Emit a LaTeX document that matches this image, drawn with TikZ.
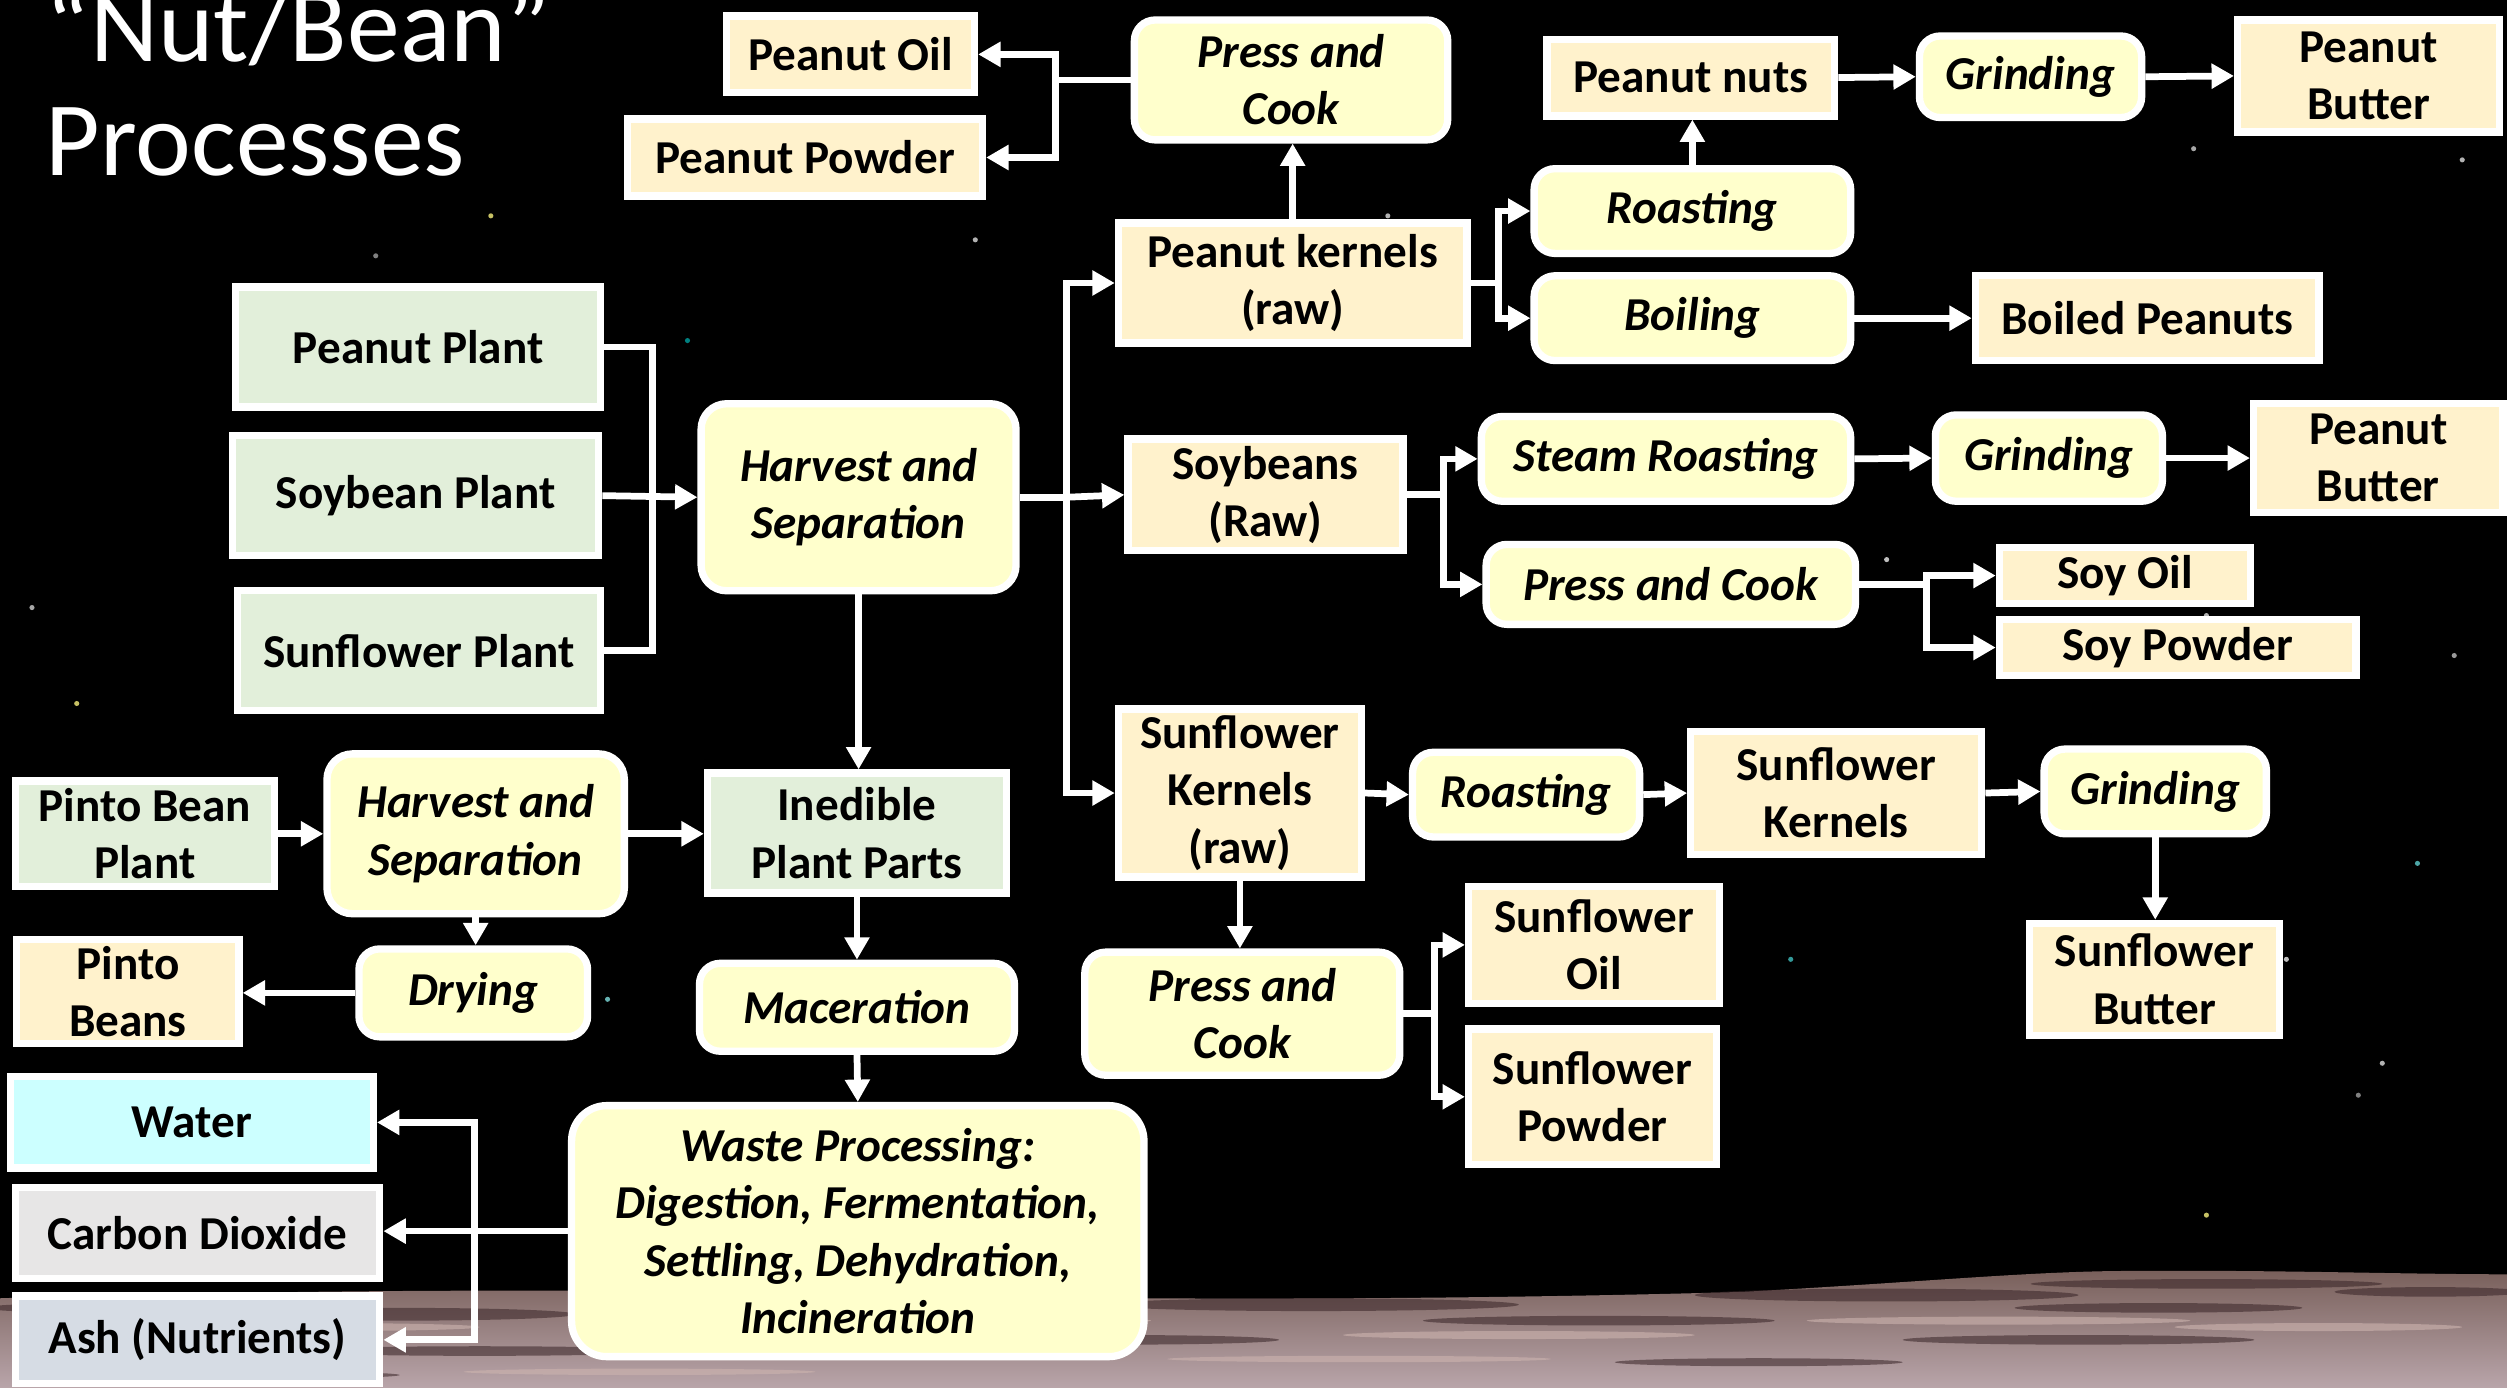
\documentclass[tikz,border=0pt]{standalone}
\usepackage{fontspec}
\setmainfont{Carlito}
\usetikzlibrary{arrows.meta}
\definecolor{cream}{HTML}{FFF2CC}
\definecolor{procy}{HTML}{FFFFCC}
\definecolor{plantg}{HTML}{E2EFDA}
\definecolor{waterc}{HTML}{CCFFFF}
\definecolor{co2c}{HTML}{E7E6E6}
\definecolor{ashc}{HTML}{D6DCE4}
\definecolor{moontop}{RGB}{120,95,90}
\definecolor{moonbot}{RGB}{185,165,170}
\definecolor{moondark}{RGB}{55,35,38}
\definecolor{moonlight}{RGB}{205,180,175}
\newcommand\boxfont{\fontsize{8.4}{10.2}\selectfont\bfseries}
\tikzset{
  box/.style={draw=white, line width=1.3pt, text=black, align=center, inner sep=0pt, font=\boxfont},
  prod/.style={box, fill=cream},
  plant/.style={box, fill=plantg},
  proc/.style={box, fill=procy, rounded corners=1.3mm, font=\boxfont\itshape},
  sz/.style 2 args={minimum width=#1mm, minimum height=#2mm},
  ln/.style={draw=white, line width=1.2pt},
  arr/.style={ln, -{Triangle[length=1.4mm,width=1.5mm]}},
  ttl/.style={anchor=base west, text=white, inner sep=0pt, font=\fontsize{18.8}{22}\selectfont},
}
\begin{document}
\begin{tikzpicture}[x=0.1mm,y=-0.1mm]
\useasboundingbox (0,0) rectangle (1568,868);
\fill[black] (0,0) rectangle (1568,868);
% stars
\foreach \x/\y/\c in {235/160/gray, 430/213/teal, 20/380/gray!70, 48/440/yellow!50!gray, 95/498/gray, 1275/65/gray, 1372/93/gray!70, 868/135/gray!60, 1505/320/gray, 1120/600/teal!80, 1380/385/gray!60, 1535/410/gray!80, 1512/540/teal!70, 1475/685/gray, 1380/760/yellow!50!gray, 648/700/gray!70, 1490/665/gray!60, 340/555/teal!70, 380/625/teal!60, 150/235/gray!50, 1115/470/teal!60, 1430/600/gray!50, 1180/350/gray!50, 1540/100/gray!60, 610/150/gray!60, 307/135/yellow!50!gray} {\fill[\c] (\x,\y) circle (1.6);}
% moon surface
\fill[top color=moontop, bottom color=moonbot] (0,812) .. controls (200,806) and (400,806) .. (560,810) .. controls (750,814) and (950,812) .. (1090,808) .. controls (1200,802) and (1260,796) .. (1320,795) .. controls (1420,794) and (1500,797) .. (1568,797) -- (1568,868) -- (0,868) -- cycle;
\foreach \x/\y/\a/\b in {60/818/70/3, 250/822/110/4, 470/816/90/3, 820/816/130/4, 1000/826/110/3, 1180/810/120/4, 1380/803/110/3, 1350/818/90/3, 1520/808/60/3, 300/845/120/3, 700/838/100/3, 1300/838/110/3, 1100/852/90/2.5, 150/860/100/2.5} {\fill[moondark, opacity=0.55] (\x,\y) ellipse [x radius=\a, y radius=\b];}
\foreach \x/\y/\a/\b in {200/830/100/2.5, 600/826/120/2.5, 950/835/110/2.5, 1250/826/120/2.5, 1450/830/90/2.5, 850/850/120/2, 400/858/110/2} {\fill[moonlight, opacity=0.6] (\x,\y) ellipse [x radius=\a, y radius=\b];}
% title
\node[ttl] (t1) at (28,38.6) {“Nut/Bean”};
\node[ttl] (t2) at (28,110) {Processes};
% nodes
\node[prod, sz={15.5}{4.8}] (poil) at (532,34) {Peanut Oil};
\node[prod, sz={22.2}{4.8}] (ppow) at (503.5,98.5) {Peanut Powder};
\node[proc, sz={19.6}{7.5}] (pcook1) at (807.5,50) {Press and\\Cook};
\node[prod, sz={18}{4.8}] (pnuts) at (1057.5,48.5) {Peanut nuts};
\node[proc, sz={13.9}{5.1}] (grind1) at (1270,48) {Grinding};
\node[prod, sz={16.4}{7}] (pbut1) at (1481.5,47.5) {Peanut\\Butter};
\node[proc, sz={19.8}{5.3}] (roast1) at (1058.5,132) {Roasting};
\node[proc, sz={19.8}{5.3}] (boil) at (1058.5,199) {Boiling};
\node[prod, sz={21.5}{5.3}] (boiled) at (1343,199) {Boiled Peanuts};
\node[prod, sz={21.8}{7.5}] (pkern) at (808.5,177) {Peanut kernels\\(raw)};
\node[plant, sz={22.8}{7.5}] (pplant) at (261.5,217) {Peanut Plant};
\node[plant, sz={22.9}{7.5}] (splant) at (260,310) {Soybean Plant};
\node[plant, sz={22.7}{7.5}] (sfplant) at (262,407) {Sunflower Plant};
\node[proc, sz={19.7}{11.7}, rounded corners=1.6mm] (harv1) at (537,311) {Harvest and\\Separation};
\node[prod, sz={17.2}{7}] (soyb) at (791.5,309.5) {Soybeans\\(Raw)};
\node[proc, sz={23.1}{5.3}] (steam) at (1042,287) {Steam Roasting};
\node[proc, sz={14.2}{5.4}] (grind2) at (1281.5,286.5) {Grinding};
\node[prod, sz={15.6}{6.8}] (pbut2) at (1487.5,286.5) {Peanut\\Butter};
\node[proc, sz={23.1}{5}] (pcook2) at (1045,365.5) {Press and Cook};
\node[prod, sz={15.7}{3.5}] (soyoil) at (1329,360) {Soy Oil};
\node[prod, sz={22.3}{3.5}] (soypow) at (1362,405) {Soy Powder};
\node[prod, sz={15.2}{10.5}] (sfkern) at (775.5,496) {Sunflower\\Kernels\\(raw)};
\node[proc, sz={14.2}{5.3}] (roast2) at (954.5,497) {Roasting};
\node[prod, sz={18.2}{7.7}] (sfk2) at (1148.5,496) {Sunflower\\Kernels};
\node[proc, sz={13.9}{5.3}] (grind3) at (1348,495) {Grinding};
\node[prod, sz={15.6}{7}] (sfbut) at (1347.5,612.5) {Sunflower\\Butter};
\node[proc, sz={19.7}{7.7}] (pcook3) at (777,634) {Press and\\Cook};
\node[prod, sz={15.7}{7.3}] (sfoil) at (997,591) {Sunflower\\Oil};
\node[prod, sz={15.5}{8.5}] (sfpow) at (996,686) {Sunflower\\Powder};
\node[plant, sz={16.2}{6.6}] (pbplant) at (90.5,521.5) {Pinto Bean\\Plant};
\node[proc, sz={18.6}{10}, rounded corners=1.6mm] (harv2) at (297.5,521.5) {Harvest and\\Separation};
\node[plant, sz={18.7}{7.5}] (ined) at (536,521) {Inedible\\Plant Parts};
\node[proc, sz={14.3}{5.5}] (dry) at (296,621) {Drying};
\node[prod, sz={13.9}{6.5}] (pinto) at (80,620) {Pinto\\Beans};
\node[proc, sz={19.7}{5.5}] (mac) at (536,630) {Maceration};
\node[proc, sz={35.8}{15.7}, rounded corners=2.2mm] (waste) at (536.5,770) {Waste Processing:\\Digestion, Fermentation,\\Settling, Dehydration,\\Incineration};
\node[box, fill=waterc, sz={22.7}{5.7}] (water) at (120,702) {Water};
\node[box, fill=co2c, sz={22.8}{5.7}] (co2) at (123.5,771) {Carbon Dioxide};
\node[box, fill=ashc, sz={22.8}{5.5}] (ash) at (123.5,838) {Ash (Nutrients)};
% junctions
\coordinate (j1) at (660,50);
\coordinate (j2) at (937,177);
\coordinate (jp) at (408,310);
\coordinate (jh) at (667,311);
\coordinate (jsoy) at (903,309.5);
\coordinate (jpc2) at (1205,365.5);
\coordinate (jpc3) at (897,634);
\coordinate (jw) at (297,770);
% connectors
\draw[ln] (pcook1.west) -- (j1);
\draw[arr] (j1) |- (poil.east);
\draw[arr] (j1) |- (ppow.east);
\draw[arr] (pkern.north) -- (pkern.north |- pcook1.south);
\draw[ln] (pkern.east) -- (j2);
\draw[arr] (j2) |- (roast1.west);
\draw[arr] (j2) |- (boil.west);
\draw[arr] (roast1.north) -- (roast1.north |- pnuts.south);
\draw[arr] (pnuts.east) -- (grind1.west);
\draw[arr] (grind1.east) -- (pbut1.west);
\draw[arr] (boil.east) -- (boiled.west);
\draw[ln] (pplant.east) -| (jp);
\draw[ln] (sfplant.east) -| (jp);
\draw[arr] (splant.east) -- (harv1.west);
\draw[ln] (harv1.east) -- (jh);
\draw[arr] (jh) |- (pkern.west);
\draw[arr] (jh) -- (soyb.west);
\draw[arr] (jh) |- (sfkern.west);
\draw[arr] (harv1.south) -- (harv1.south |- ined.north);
\draw[ln] (soyb.east) -- (jsoy);
\draw[arr] (jsoy) |- (steam.west);
\draw[arr] (jsoy) |- (pcook2.west);
\draw[arr] (steam.east) -- (grind2.west);
\draw[arr] (grind2.east) -- (pbut2.west);
\draw[ln] (pcook2.east) -- (jpc2);
\draw[arr] (jpc2) |- (soyoil.west);
\draw[arr] (jpc2) |- (soypow.west);
\draw[arr] (sfkern.east) -- (roast2.west);
\draw[arr] (roast2.east) -- (sfk2.west);
\draw[arr] (sfk2.east) -- (grind3.west);
\draw[arr] (grind3.south) -- (grind3.south |- sfbut.north);
\draw[arr] (sfkern.south) -- (sfkern.south |- pcook3.north);
\draw[ln] (pcook3.east) -- (jpc3);
\draw[arr] (jpc3) |- (sfoil.west);
\draw[arr] (jpc3) |- (sfpow.west);
\draw[arr] (pbplant.east) -- (harv2.west);
\draw[arr] (harv2.east) -- (harv2.east -| ined.west);
\draw[arr] (harv2.south) -- (harv2.south |- dry.north);
\draw[arr] (dry.west) -- (dry.west -| pinto.east);
\draw[arr] (ined.south) -- (mac.north);
\draw[arr] (mac.south) -- (waste.north);
\draw[ln] (waste.west) -- (jw);
\draw[arr] (jw) |- (water.east);
\draw[arr] (jw) -- (jw -| co2.east);
\draw[arr] (jw) |- (ash.east);
\end{tikzpicture}
\end{document}
